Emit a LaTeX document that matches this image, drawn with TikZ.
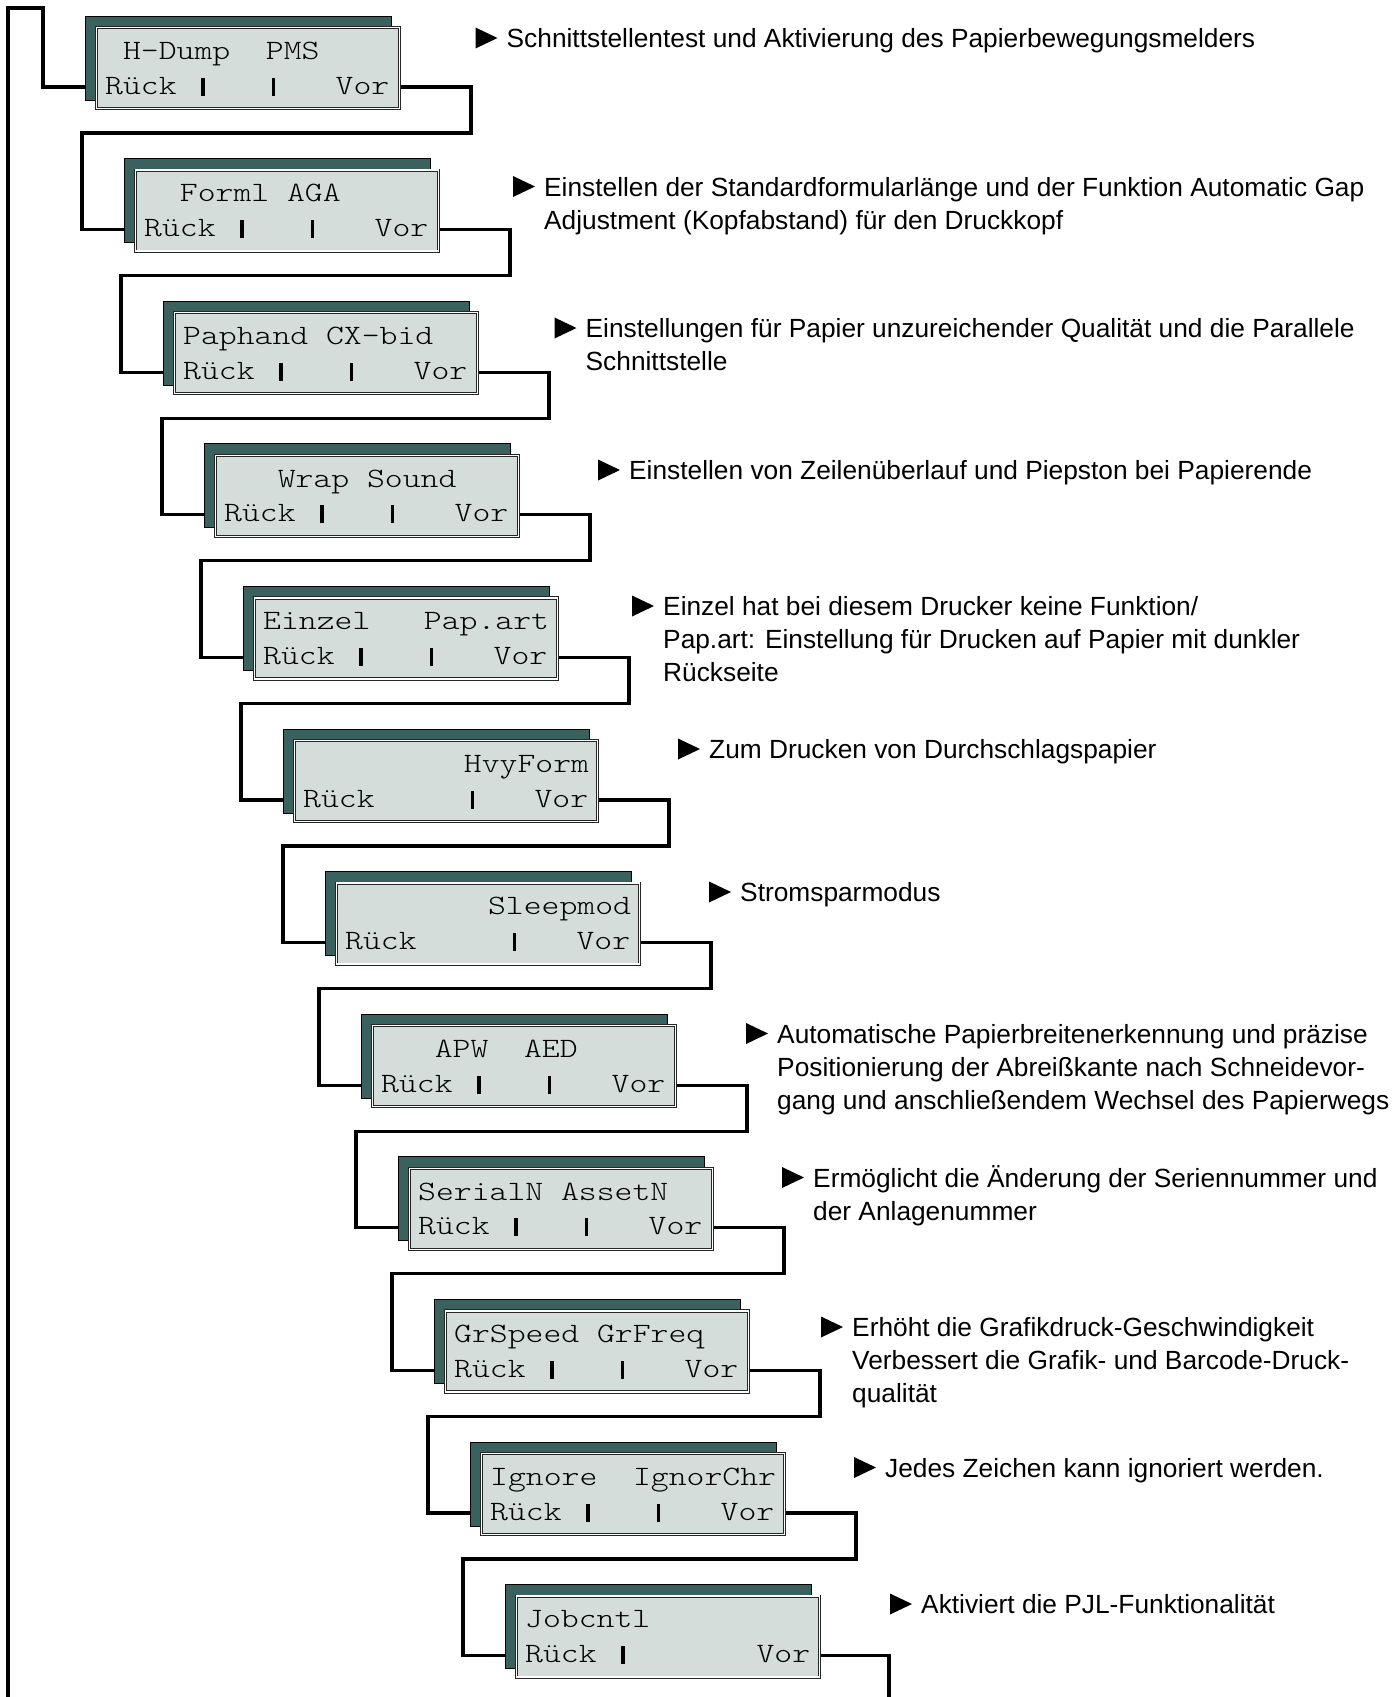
\documentclass[tikz,border=0pt]{standalone}
\usepackage{fontspec}
\setmainfont{Liberation Sans}
\setmonofont[FakeStretch=1.215]{Latin Modern Mono Light}
\usetikzlibrary{calc}
\definecolor{shadowc}{HTML}{3A615D}
\definecolor{lcdgray}{HTML}{D4DDDA}
\newcommand\lcdbar{\makebox[0.6075em]{\raisebox{-1.5pt}{\rule{3.4pt}{18pt}}}}
\begin{document}
\begin{tikzpicture}[x=1pt,y=-1pt,
  shadowbox/.style={draw=black,line width=0.8pt,fill=shadowc,minimum width=306pt,minimum height=84pt,inner sep=0pt,outer sep=0pt,anchor=north west},
  lcdbox/.style={fill=lcdgray,draw=black!85,double=white,double distance=1.4pt,line width=0.9pt,minimum width=303pt,minimum height=81pt,inner sep=0pt,outer sep=0pt,anchor=north west},
  lcdtext/.style={font=\fontsize{28}{34}\selectfont\ttfamily,inner sep=0pt,anchor=base west},
  lbl/.style={font=\fontsize{26.3}{33}\selectfont,inner sep=0pt,anchor=base west},
  conn/.style={line width=3.1pt,black}]
\useasboundingbox (0,0) rectangle (1396,1697);
\foreach \k/\L/\T/\ra/\rb in {
 1/95/26/{~H-Dump~~PMS}/{Rück~\lcdbar~~~\lcdbar~~~Vor},
 2/134/168.6/{~~Forml~AGA}/{Rück~\lcdbar~~~\lcdbar~~~Vor},
 3/173/311.2/{Paphand~CX-bid}/{Rück~\lcdbar~~~\lcdbar~~~Vor},
 4/214/453.8/{~~~Wrap~Sound}/{Rück~\lcdbar~~~\lcdbar~~~Vor},
 5/253/596.4/{Einzel~~~Pap.art}/{Rück~\lcdbar~~~\lcdbar~~~Vor},
 6/293/739/{~~~~~~~~~HvyForm}/{Rück~~~~~\lcdbar~~~Vor},
 7/335/881.6/{~~~~~~~~Sleepmod}/{Rück~~~~~\lcdbar~~~Vor},
 8/371/1024.2/{~~~APW~~AED}/{Rück~\lcdbar~~~\lcdbar~~~Vor},
 9/408/1166.8/{SerialN~AssetN}/{Rück~\lcdbar~~~\lcdbar~~~Vor},
 10/444/1309.4/{GrSpeed~GrFreq}/{Rück~\lcdbar~~~\lcdbar~~~Vor},
 11/480/1452/{Ignore~~IgnorChr}/{Rück~\lcdbar~~~\lcdbar~~~Vor},
 12/515/1594.6/{Jobcntl}/{Rück~\lcdbar~~~~~~~Vor}}{
  \node[shadowbox] (s\k) at (\L-10,\T-10) {};
  \node[lcdbox] (b\k) at (\L+1.5,\T+1.5) {};
  \node[lcdtext] (t\k a) at ([shift={(8.5,31.8)}]b\k.north west) {\ra};
  \node[lcdtext] (t\k b) at ([shift={(8.5,66.5)}]b\k.north west) {\rb};
  \coordinate (in\k) at ([shift={(0,71)}]s\k.north west);
  \coordinate (out\k) at ([shift={(1.5,59.5)}]b\k.north east);
}
% connectors
\coordinate (start) at (8,1705);
\coordinate (topc) at (8,8);
\draw[conn] (start) -- (topc) -| ([xshift=-42]in1) -- (in1);
\foreach \a/\b in {1/2,2/3,3/4,4/5,5/6,6/7,7/8,8/9,9/10,10/11,11/12}{
  \draw[conn] (out\a) -- ++(70,0) -- ++(0,46) -| ([xshift=-42]in\b) -- (in\b);
}
\coordinate (endc) at ([shift={(68,60)}]out12);
\draw[conn] (out12) -| (endc);
% labels
\foreach \k/\x/\y/\txt in {
 1/506.5/47.5/{Schnittstellentest und Aktivierung des Papierbewegungsmelders},
 2/544/196/{Einstellen der Standardformularlänge und der Funktion Automatic Gap\\Adjustment (Kopfabstand) für den Druckkopf},
 3/585.5/337.5/{Einstellungen für Papier unzureichender Qualität und die Parallele\\Schnittstelle},
 4/629/479.5/{Einstellen von Zeilenüberlauf und Piepston bei Papierende},
 5/663/615.5/{Einzel hat bei diesem Drucker keine Funktion/\\Pap.art: Einstellung für Drucken auf Papier mit dunkler\\Rückseite},
 6/709/758.5/{Zum Drucken von Durchschlagspapier},
 7/740/901.5/{Stromsparmodus},
 8/777/1043/{Automatische Papierbreitenerkennung und präzise\\Positionierung der Abreißkante nach Schneidevor-\\gang und anschließendem Wechsel des Papierwegs},
 9/813/1187/{Ermöglicht die Änderung der Seriennummer und\\der Anlagenummer},
 10/852/1336.5/{Erhöht die Grafikdruck-Geschwindigkeit\\Verbessert die Grafik- und Barcode-Druck-\\qualität},
 11/885/1477/{Jedes Zeichen kann ignoriert werden.},
 12/921/1613.5/{Aktiviert die PJL-Funktionalität}}{
  \node[lbl] (l\k) at (\x,\y) {\begin{tabular}[t]{@{}l@{}}\txt\end{tabular}};
  \fill ([shift={(-31,-20)}]l\k.base west) -- ++(0,21) -- ++(22,-10.5) -- cycle;
}
\end{tikzpicture}
\end{document}
